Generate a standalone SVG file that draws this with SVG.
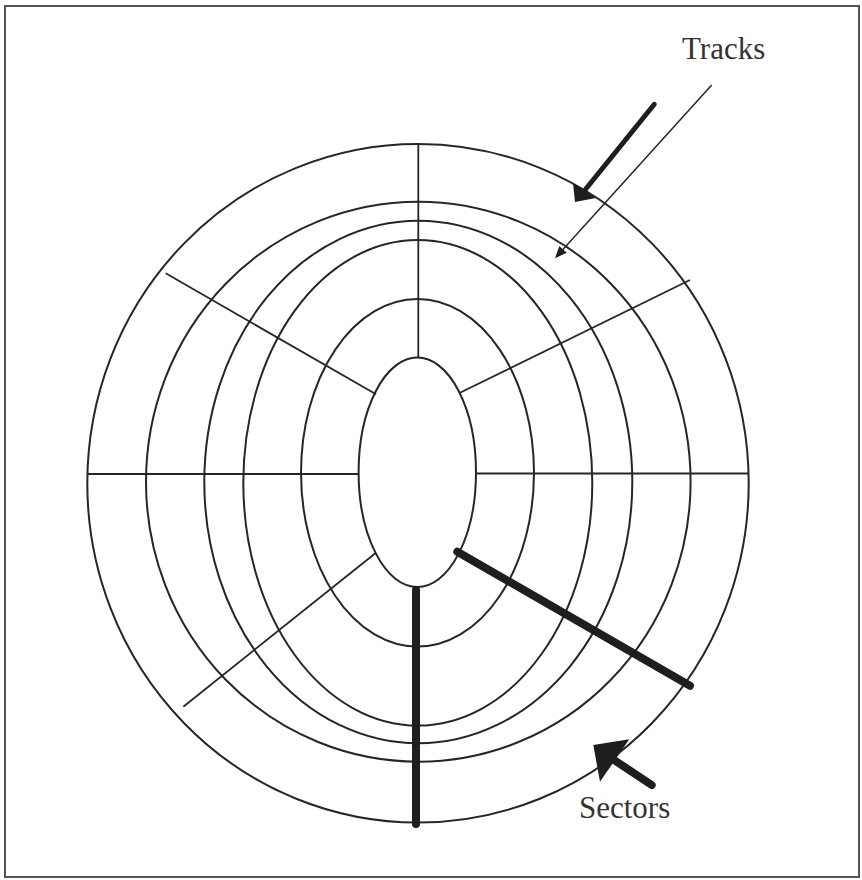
<svg xmlns="http://www.w3.org/2000/svg" width="862" height="880" viewBox="0 0 862 880">
<style>
.trk{fill:none;stroke:#262626;stroke-width:2}
.sec{stroke:#262626;stroke-width:1.8;fill:none}
.thick{stroke:#1e1e1e;stroke-linecap:round;fill:none}
.head{fill:#1e1e1e;stroke:none}
.lbl{font-family:"Liberation Serif","Times New Roman",serif;font-size:31px;fill:#333}
</style>
<rect x="0" y="0" width="862" height="880" fill="#ffffff"/>
<rect id="frame" x="5" y="6" width="854" height="871" fill="none" stroke="#555" stroke-width="2"/>
<g id="tracks">
<ellipse class="trk" cx="418" cy="483.3" rx="330.7" ry="339.3"/>
<ellipse class="trk" cx="418.3" cy="481.7" rx="272.3" ry="280"/>
<ellipse class="trk" cx="418.3" cy="482" rx="214" ry="261.3"/>
<ellipse class="trk" cx="417.8" cy="482.8" rx="174.5" ry="242.8"/>
<ellipse class="trk" cx="417.5" cy="472.8" rx="116.5" ry="173.8"/>
<ellipse class="trk" cx="417.3" cy="472.3" rx="58.7" ry="114.7"/>
</g>
<g id="sector-lines">
<line class="sec" x1="418.3" y1="144" x2="418.3" y2="357.7"/>
<line class="sec" x1="87.3" y1="474" x2="358.7" y2="474"/>
<line class="sec" x1="476" y1="473.5" x2="748.7" y2="473.5"/>
<line class="sec" x1="165.7" y1="273.3" x2="376" y2="394.3"/>
<line class="sec" x1="459" y1="393.3" x2="690" y2="280"/>
<line class="sec" x1="183.3" y1="706.7" x2="376" y2="552.7"/>
</g>
<g id="highlighted-sector">
<line class="thick" stroke-width="8" x1="416" y1="590" x2="416" y2="824"/>
<line class="thick" stroke-width="8" x1="457.3" y1="551.7" x2="690" y2="685.7"/>
</g>
<g id="connectors">
<line class="thick" stroke-width="5" x1="654.3" y1="104.3" x2="585" y2="190"/>
<polygon class="head" points="573,183 575,202 596,198"/>
<line stroke="#262626" stroke-width="1.5" x1="711.7" y1="85" x2="562" y2="250.5"/>
<polygon class="head" points="555,258.3 566.7,252.8 559.3,246"/>
<line class="thick" stroke-width="8" x1="651.7" y1="785" x2="614" y2="760"/>
<polygon class="head" points="593.3,745 629.3,739.3 600,781.7"/>
</g>
<g id="label-tracks"><text class="lbl" x="682" y="59">Tracks</text></g>
<g id="label-sectors"><text class="lbl" x="579" y="818">Sectors</text></g>
</svg>
